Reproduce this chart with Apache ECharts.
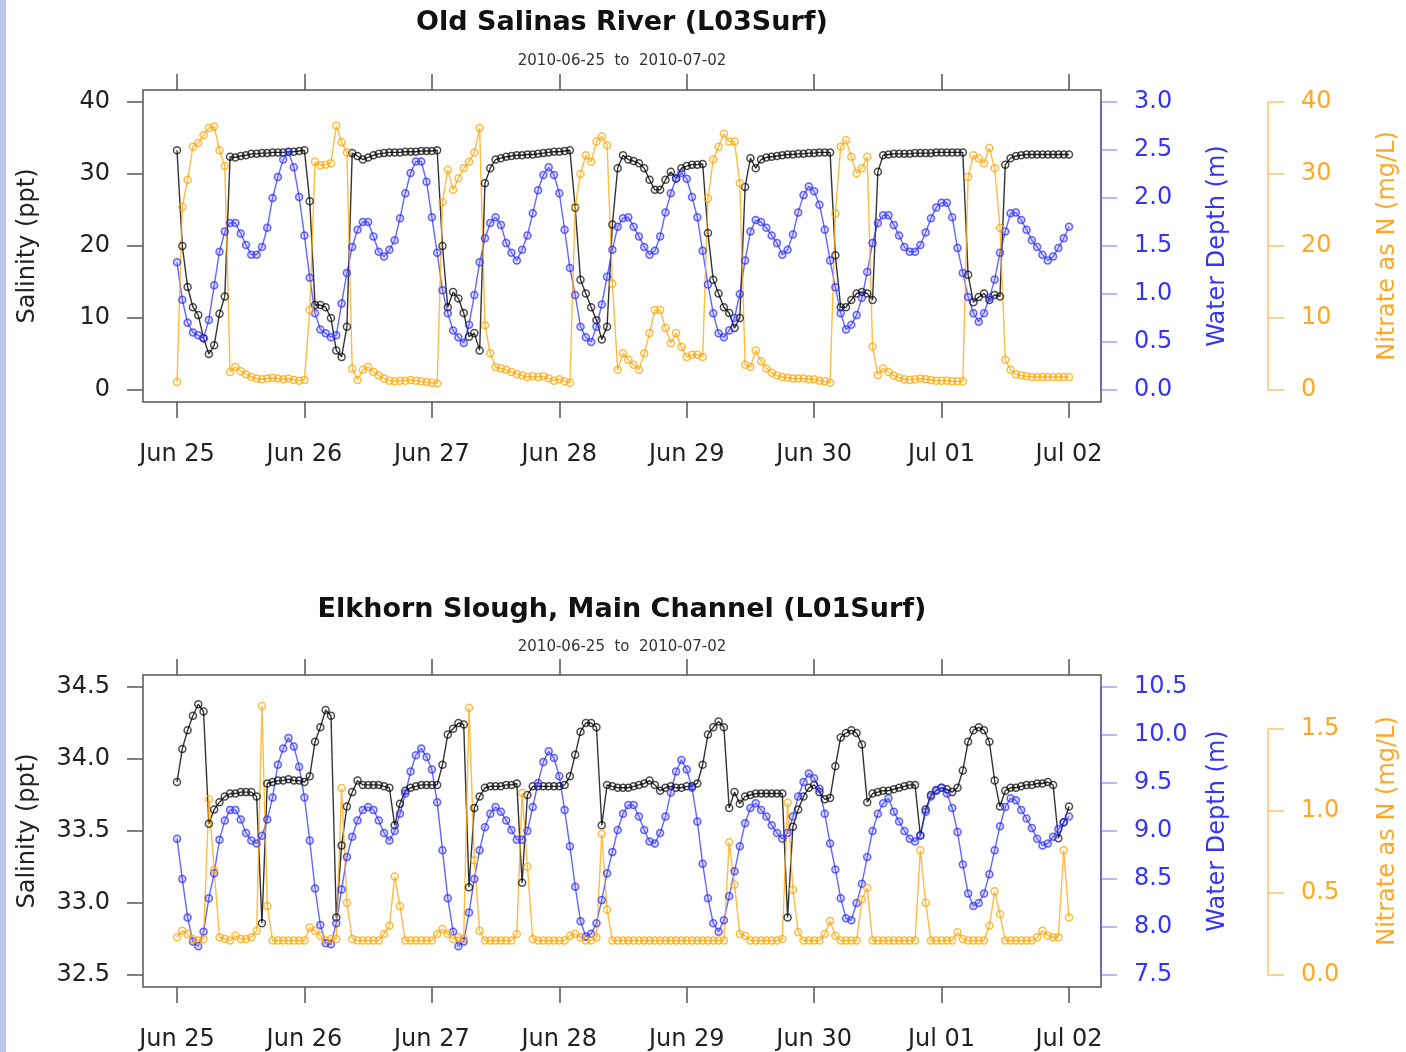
<!DOCTYPE html>
<html>
<head>
<meta charset="utf-8">
<title>Old Salinas River / Elkhorn Slough</title>
<script src="https://cdn.jsdelivr.net/npm/echarts@6.0.0/dist/echarts.min.js"></script>
<style>
html, body { margin: 0; padding: 0; background: #fff; }
#main { width: 1406px; height: 1052px; }
</style>
</head>
<body>
<div id="main"></div>
<script>
// hourly readings, 2010-06-25 00:00 to 2010-07-02 00:00 (169 per series)
var dayLabels = ["Jun 25", "Jun 26", "Jun 27", "Jun 28", "Jun 29", "Jun 30", "Jul 01", "Jul 02"];

// Old Salinas River (L03Surf)
var salinityL03 = [
  33.3, 20.0, 14.3, 11.5, 10.4, 7.2, 5.0, 6.2, 10.6, 13.0, 32.4, 32.3, 32.5, 32.6, 32.8, 32.8, 32.9, 32.9, 33.0, 33.0, 33.0, 33.1, 33.1, 33.2,
  33.3, 26.2, 11.8, 11.8, 11.5, 10.0, 5.5, 4.6, 8.8, 32.9, 32.5, 32.0, 32.3, 32.6, 32.8, 32.9, 33.0, 33.0, 33.0, 33.1, 33.1, 33.1, 33.2, 33.2,
  33.2, 33.3, 20.0, 11.5, 13.6, 12.7, 10.7, 7.4, 7.9, 5.5, 28.7, 30.8, 32.0, 32.2, 32.4, 32.5, 32.6, 32.6, 32.7, 32.7, 32.8, 32.9, 33.0, 33.1,
  33.1, 33.2, 33.3, 25.3, 15.3, 13.4, 11.5, 9.7, 7.0, 8.8, 23.0, 30.8, 32.6, 32.0, 31.8, 31.5, 30.8, 29.2, 27.8, 27.8, 29.2, 30.3, 29.4, 30.8,
  31.1, 31.3, 31.3, 31.4, 21.8, 15.3, 13.4, 11.5, 10.7, 8.6, 10.0, 28.2, 32.2, 30.8, 32.0, 32.3, 32.4, 32.5, 32.6, 32.7, 32.7, 32.8, 32.8, 32.9,
  32.9, 33.0, 33.0, 33.0, 18.7, 11.5, 11.5, 12.5, 13.4, 13.6, 13.4, 12.5, 30.3, 32.6, 32.7, 32.8, 32.8, 32.8, 32.8, 32.9, 32.9, 32.9, 32.9, 33.0,
  33.0, 33.0, 33.0, 33.0, 33.0, 16.0, 12.2, 12.9, 13.4, 12.5, 13.2, 13.0, 31.3, 32.2, 32.5, 32.6, 32.7, 32.7, 32.7, 32.7, 32.7, 32.7, 32.7, 32.7,
  32.7
];
var depthL03 = [
  1.33, 0.94, 0.70, 0.60, 0.57, 0.54, 0.73, 1.09, 1.44, 1.65, 1.74, 1.74, 1.63, 1.51, 1.41, 1.41, 1.49, 1.69, 2.00, 2.22, 2.40, 2.48, 2.32, 2.01,
  1.61, 1.17, 0.80, 0.63, 0.59, 0.55, 0.57, 0.90, 1.22, 1.49, 1.67, 1.75, 1.75, 1.60, 1.44, 1.39, 1.46, 1.56, 1.79, 2.05, 2.26, 2.38, 2.38, 2.17,
  1.80, 1.43, 1.04, 0.80, 0.62, 0.55, 0.49, 0.68, 0.99, 1.33, 1.58, 1.74, 1.80, 1.72, 1.53, 1.43, 1.35, 1.46, 1.61, 1.84, 2.08, 2.24, 2.32, 2.24,
  2.05, 1.67, 1.27, 0.99, 0.66, 0.55, 0.50, 0.66, 0.89, 1.18, 1.46, 1.70, 1.79, 1.80, 1.70, 1.60, 1.49, 1.41, 1.45, 1.60, 1.85, 2.05, 2.20, 2.26,
  2.20, 2.01, 1.80, 1.45, 1.10, 0.80, 0.59, 0.55, 0.62, 0.75, 1.00, 1.35, 1.65, 1.77, 1.75, 1.69, 1.61, 1.53, 1.41, 1.46, 1.62, 1.85, 2.03, 2.12,
  2.07, 1.93, 1.67, 1.35, 1.07, 0.80, 0.63, 0.68, 0.78, 0.96, 1.23, 1.53, 1.74, 1.82, 1.82, 1.72, 1.61, 1.49, 1.44, 1.44, 1.51, 1.64, 1.79, 1.90,
  1.95, 1.95, 1.80, 1.48, 1.22, 0.97, 0.80, 0.71, 0.80, 0.96, 1.15, 1.43, 1.65, 1.84, 1.85, 1.77, 1.67, 1.56, 1.49, 1.41, 1.35, 1.39, 1.48, 1.58,
  1.70
];
var nitrateL03 = [
  1.1, 25.4, 29.2, 33.8, 34.3, 35.4, 36.4, 36.6, 33.3, 31.1, 2.5, 3.2, 2.6, 2.2, 1.8, 1.6, 1.5, 1.6, 1.7, 1.6, 1.5, 1.6, 1.4, 1.3,
  1.4, 11.1, 31.7, 31.2, 31.3, 31.5, 36.7, 34.4, 33.0, 3.0, 1.4, 2.8, 3.2, 2.5, 2.0, 1.6, 1.3, 1.2, 1.3, 1.3, 1.4, 1.3, 1.2, 1.1,
  1.0, 0.9, 26.1, 30.6, 27.8, 29.4, 30.8, 31.7, 33.0, 36.4, 9.0, 5.1, 3.2, 3.0, 2.8, 2.5, 2.2, 2.0, 1.8, 1.9, 1.8, 1.9, 1.6, 1.3,
  1.5, 1.2, 1.0, 25.5, 30.0, 32.6, 31.7, 34.5, 35.2, 34.0, 14.8, 2.8, 5.1, 4.2, 3.5, 2.8, 5.1, 7.9, 11.1, 11.1, 8.6, 6.5, 7.9, 6.0,
  4.6, 4.9, 4.9, 4.6, 26.6, 32.0, 33.8, 35.6, 34.5, 34.5, 28.7, 3.5, 3.2, 5.5, 4.0, 3.0, 2.4, 2.0, 1.8, 1.7, 1.6, 1.6, 1.6, 1.5,
  1.5, 1.3, 1.2, 1.0, 24.5, 33.8, 34.7, 32.4, 30.1, 30.8, 32.4, 6.0, 2.1, 3.0, 2.5, 2.0, 1.7, 1.5, 1.4, 1.5, 1.6, 1.5, 1.4, 1.3,
  1.3, 1.3, 1.2, 1.2, 1.2, 29.6, 32.6, 32.2, 31.5, 33.6, 30.8, 22.5, 4.2, 2.8, 2.2, 2.0, 1.9, 1.8, 1.8, 1.8, 1.8, 1.8, 1.8, 1.8,
  1.8
];

// Elkhorn Slough, Main Channel (L01Surf)
var salinityL01 = [
  33.84, 34.07, 34.20, 34.30, 34.38, 34.33, 33.55, 33.65, 33.70, 33.74, 33.76, 33.76, 33.77, 33.77, 33.77, 33.74, 32.86, 33.83, 33.84, 33.85, 33.85, 33.86, 33.85, 33.85,
  33.84, 33.88, 34.12, 34.22, 34.34, 34.30, 32.90, 33.40, 33.67, 33.77, 33.85, 33.82, 33.82, 33.82, 33.82, 33.81, 33.80, 33.54, 33.69, 33.78, 33.80, 33.81, 33.82, 33.82,
  33.82, 33.82, 33.96, 34.17, 34.21, 34.25, 34.24, 33.11, 33.66, 33.74, 33.80, 33.81, 33.81, 33.81, 33.82, 33.82, 33.83, 33.14, 33.75, 33.81, 33.81, 33.81, 33.81, 33.81,
  33.81, 33.82, 33.88, 34.03, 34.19, 34.25, 34.25, 34.22, 33.54, 33.82, 33.81, 33.80, 33.80, 33.80, 33.81, 33.82, 33.83, 33.85, 33.82, 33.78, 33.80, 33.81, 33.80, 33.80,
  33.81, 33.81, 33.83, 33.96, 34.17, 34.22, 34.26, 34.22, 33.66, 33.77, 33.69, 33.74, 33.75, 33.76, 33.76, 33.76, 33.76, 33.76, 33.76, 32.90, 33.53, 33.65, 33.74, 33.80,
  33.82, 33.77, 33.72, 33.73, 33.95, 34.15, 34.18, 34.20, 34.18, 34.10, 33.70, 33.76, 33.77, 33.78, 33.78, 33.79, 33.80, 33.81, 33.82, 33.82, 33.47, 33.65, 33.75, 33.78,
  33.80, 33.79, 33.77, 33.80, 33.92, 34.12, 34.20, 34.22, 34.20, 34.12, 33.85, 33.67, 33.78, 33.80, 33.80, 33.81, 33.82, 33.82, 33.83, 33.83, 33.84, 33.82, 33.45, 33.56,
  33.67
];
var depthL01 = [
  8.92, 8.50, 8.10, 7.85, 7.80, 7.95, 8.30, 8.56, 8.91, 9.11, 9.22, 9.22, 9.12, 8.98, 8.90, 8.87, 8.95, 9.12, 9.35, 9.69, 9.86, 9.97, 9.88, 9.67,
  9.35, 8.90, 8.40, 8.02, 7.83, 7.82, 8.04, 8.39, 8.73, 8.94, 9.11, 9.22, 9.25, 9.22, 9.11, 8.98, 8.90, 9.00, 9.18, 9.39, 9.62, 9.79, 9.86, 9.77,
  9.64, 9.30, 8.80, 8.30, 7.95, 7.80, 7.85, 8.15, 8.50, 8.80, 9.04, 9.18, 9.25, 9.20, 9.11, 9.01, 8.91, 8.91, 9.00, 9.25, 9.50, 9.72, 9.83, 9.76,
  9.57, 9.22, 8.84, 8.42, 8.06, 7.90, 7.93, 8.04, 8.28, 8.56, 8.78, 9.01, 9.18, 9.27, 9.27, 9.15, 9.01, 8.89, 8.87, 8.98, 9.15, 9.40, 9.62, 9.74,
  9.64, 9.45, 9.10, 8.66, 8.30, 8.04, 7.95, 8.07, 8.32, 8.58, 8.84, 9.08, 9.24, 9.29, 9.22, 9.15, 9.06, 8.98, 8.92, 8.98, 9.15, 9.36, 9.51, 9.60,
  9.55, 9.44, 9.18, 8.87, 8.60, 8.30, 8.09, 8.07, 8.25, 8.45, 8.73, 9.00, 9.18, 9.29, 9.34, 9.20, 9.10, 9.00, 8.92, 8.89, 8.95, 9.20, 9.36, 9.43,
  9.45, 9.39, 9.24, 8.99, 8.65, 8.35, 8.22, 8.25, 8.35, 8.55, 8.80, 9.05, 9.25, 9.34, 9.32, 9.22, 9.13, 9.03, 8.92, 8.85, 8.87, 8.94, 9.02, 9.09,
  9.15
];
var nitrateL01 = [
  0.23, 0.27, 0.25, 0.22, 0.21, 0.22, 1.07, 0.64, 0.23, 0.22, 0.21, 0.24, 0.22, 0.22, 0.23, 0.27, 1.64, 0.42, 0.21, 0.21, 0.21, 0.21, 0.21, 0.21,
  0.21, 0.29, 0.27, 0.24, 0.21, 0.22, 0.22, 1.14, 0.44, 0.22, 0.21, 0.21, 0.21, 0.21, 0.21, 0.25, 0.30, 0.60, 0.42, 0.21, 0.21, 0.21, 0.21, 0.21,
  0.21, 0.25, 0.28, 0.25, 0.22, 0.23, 0.22, 1.63, 0.70, 0.27, 0.21, 0.21, 0.21, 0.21, 0.21, 0.21, 0.25, 1.11, 0.66, 0.22, 0.21, 0.21, 0.21, 0.21,
  0.21, 0.21, 0.24, 0.25, 0.23, 0.21, 0.21, 0.23, 0.86, 0.40, 0.21, 0.21, 0.21, 0.21, 0.21, 0.21, 0.21, 0.21, 0.21, 0.21, 0.21, 0.21, 0.21, 0.21,
  0.21, 0.21, 0.21, 0.21, 0.21, 0.21, 0.21, 0.21, 0.81, 0.55, 0.25, 0.24, 0.21, 0.21, 0.21, 0.21, 0.21, 0.21, 0.22, 1.05, 0.52, 0.26, 0.21, 0.21,
  0.21, 0.21, 0.25, 0.33, 0.24, 0.21, 0.21, 0.21, 0.21, 0.46, 0.53, 0.21, 0.21, 0.21, 0.21, 0.21, 0.21, 0.21, 0.21, 0.21, 0.76, 0.44, 0.21, 0.21,
  0.21, 0.21, 0.21, 0.26, 0.22, 0.21, 0.21, 0.21, 0.21, 0.30, 0.51, 0.37, 0.21, 0.21, 0.21, 0.21, 0.21, 0.21, 0.23, 0.27, 0.24, 0.23, 0.23, 0.76,
  0.35
];

var FONT = "DejaVu Sans";
var ink = "#222";
var frame = "#555";
var blueText = "#3636ee";
var blueAxis = "rgba(80,80,255,0.55)";
var orangeText = "#ffa726";
var orangeAxis = "#ffc36a";

// plot area: Jun 25 .. Jul 02 spans x 177..1069, tick range spans 288px
var plotLeft = 177, plotWidth = 892, plotHeight = 288;
var tops = [102, 687];

var chart = echarts.init(document.getElementById("main"));

function fixed1(v) { return v.toFixed(1); }

function timeAxis(grid, pos, offset, showLabel) {
  return {
    type: "value", gridIndex: grid, position: pos, offset: offset,
    min: 0, max: 168, interval: 24,
    axisLine: { show: false, onZero: false },
    axisTick: { show: true, length: 16, lineStyle: { color: frame, width: 1.5 } },
    axisLabel: {
      show: showLabel, margin: 41, color: ink, fontFamily: FONT, fontSize: 24,
      formatter: function (v) { return dayLabels[v / 24]; }
    },
    splitLine: { show: false }
  };
}

function valueAxis(grid, pos, offset, min, max, step, color, lineColor, fmt, name, gap, showLine) {
  return {
    type: "value", gridIndex: grid, position: pos, offset: offset,
    min: min, max: max, interval: step,
    name: name, nameLocation: "middle", nameRotate: 90, nameGap: gap,
    nameTextStyle: { color: color, fontFamily: FONT, fontSize: 24 },
    axisLine: { show: !!showLine, onZero: false, lineStyle: { color: lineColor, width: 1.5 } },
    axisTick: { show: true, length: 16, lineStyle: { color: lineColor, width: 1.5 } },
    axisLabel: { margin: 33, color: color, fontFamily: FONT, fontSize: 24, formatter: fmt },
    splitLine: { show: false }
  };
}

function lineSeries(x, y, values, stroke, line, fill) {
  return {
    type: "line", xAxisIndex: x, yAxisIndex: y,
    data: values.map(function (v, i) { return [i, v]; }),
    symbol: "circle", symbolSize: 7, showAllSymbol: true,
    lineStyle: { color: line, width: 1.4 },
    itemStyle: { color: fill, borderColor: stroke, borderWidth: 1.5 },
    emphasis: { disabled: true },
    silent: true
  };
}

function box(top) {
  return {
    type: "rect", silent: true,
    shape: { x: 143, y: top - 12, width: 958, height: plotHeight + 24 },
    style: { fill: "none", stroke: frame, lineWidth: 1.5 }
  };
}

function heading(y, text, bold, size) {
  return {
    type: "text", silent: true,
    style: {
      x: 622, y: y, text: text, align: "center", verticalAlign: "middle",
      font: (bold ? "bold " : "") + size + "px '" + FONT + "'", fill: bold ? "#111" : "#333"
    }
  };
}

var option = {
  animation: false,
  backgroundColor: "#fff",
  grid: [
    { left: plotLeft, top: tops[0], width: plotWidth, height: plotHeight, outerBoundsMode: "none" },
    { left: plotLeft, top: tops[1], width: plotWidth, height: plotHeight, outerBoundsMode: "none" },
    // nitrate scale of the lower panel only covers 0 .. 1.5
    { left: plotLeft, top: 729, width: plotWidth, height: 246, outerBoundsMode: "none" }
  ],
  xAxis: [
    timeAxis(0, "bottom", 12, true),
    timeAxis(0, "top", 12, false),
    timeAxis(1, "bottom", 12, true),
    timeAxis(1, "top", 12, false),
    { type: "value", gridIndex: 2, min: 0, max: 168, show: false }
  ],
  yAxis: [
    valueAxis(0, "left", 34, 0, 40, 10, ink, frame, null, "Salinity (ppt)", 103, false),
    valueAxis(0, "right", 32, 0, 3, 0.5, blueText, blueAxis, fixed1, "Water Depth (m)", 105, true),
    valueAxis(0, "right", 199, 0, 40, 10, orangeText, orangeAxis, null, "Nitrate as N (mg/L)", 108, true),
    valueAxis(1, "left", 34, 32.5, 34.5, 0.5, ink, frame, fixed1, "Salinity (ppt)", 103, false),
    valueAxis(1, "right", 32, 7.5, 10.5, 0.5, blueText, blueAxis, fixed1, "Water Depth (m)", 105, true),
    // data axis for lower nitrate (0 at bottom, 1.5 at y=729), shows only the title
    {
      type: "value", gridIndex: 1, position: "right", offset: 199, min: 0, max: 1.5 * 288 / 246,
      name: "Nitrate as N (mg/L)", nameLocation: "middle", nameRotate: 90, nameGap: 108,
      nameTextStyle: { color: orangeText, fontFamily: FONT, fontSize: 24 },
      axisLine: { show: false, onZero: false }, axisTick: { show: false }, axisLabel: { show: false },
      splitLine: { show: false }
    },
    valueAxis(2, "right", 199, 0, 1.5, 0.5, orangeText, orangeAxis, fixed1, "", 0, true)
  ],
  graphic: [
    { type: "rect", silent: true, shape: { x: 0, y: 0, width: 6, height: 1052 }, style: { fill: "#b9c9ec" } },
    box(tops[0]),
    box(tops[1]),
    heading(23, "Old Salinas River (L03Surf)", true, 27),
    heading(61, "2010-06-25  to  2010-07-02", false, 15),
    heading(610, "Elkhorn Slough, Main Channel (L01Surf)", true, 27),
    heading(647, "2010-06-25  to  2010-07-02", false, 15)
  ],
  series: [
    lineSeries(0, 0, salinityL03, "rgba(0,0,0,0.7)", "rgba(0,0,0,0.8)", "rgba(255,255,255,0)"),
    lineSeries(0, 1, depthL03, "rgba(40,40,255,0.7)", "rgba(50,50,255,0.75)", "rgba(110,110,255,0.25)"),
    lineSeries(0, 2, nitrateL03, "rgba(255,165,0,0.75)", "rgba(255,170,20,0.8)", "rgba(255,255,255,0)"),
    lineSeries(2, 3, salinityL01, "rgba(0,0,0,0.7)", "rgba(0,0,0,0.8)", "rgba(255,255,255,0)"),
    lineSeries(2, 4, depthL01, "rgba(40,40,255,0.7)", "rgba(50,50,255,0.75)", "rgba(110,110,255,0.25)"),
    lineSeries(2, 5, nitrateL01, "rgba(255,165,0,0.75)", "rgba(255,170,20,0.8)", "rgba(255,255,255,0)")
  ]
};

chart.setOption(option);
</script>
</body>
</html>
